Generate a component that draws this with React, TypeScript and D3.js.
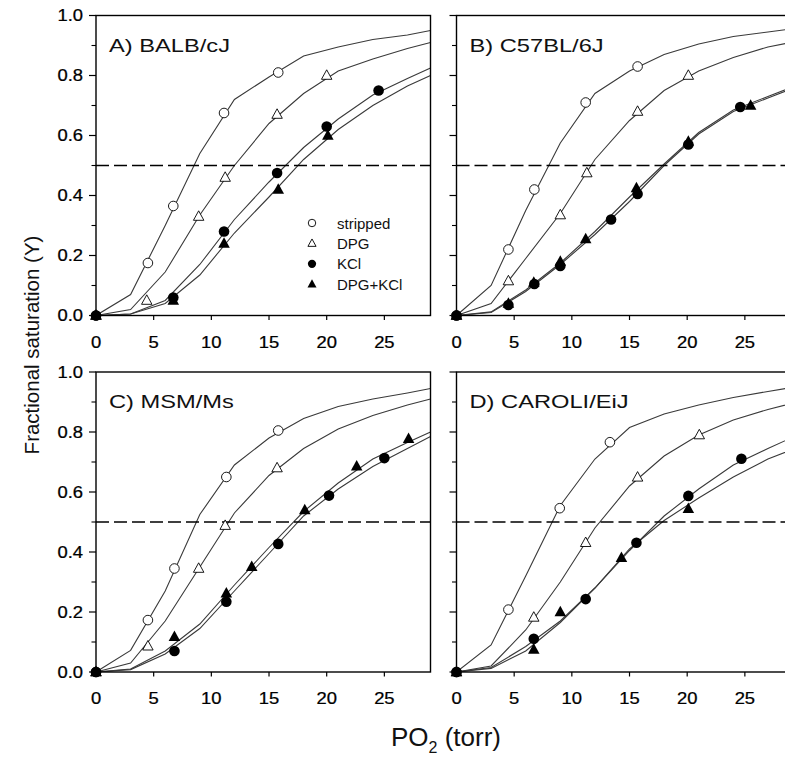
import React from "react";
import * as d3 from "d3";

// oxygen equilibrium curves, 4 mouse strains
const curveX = [0, 3, 6, 9, 12, 15, 18, 21, 24, 27, 29];
const xTicks = [0, 5, 10, 15, 20, 25];
const yTicks = [0, 0.2, 0.4, 0.6, 0.8, 1.0];
const yMinorTicks = [0.1, 0.3, 0.5, 0.7, 0.9];
const seriesNames = ["stripped", "DPG", "KCl", "DPG+KCl"];
const panelLabels = ["A) BALB/cJ", "B) C57BL/6J", "C) MSM/Ms", "D) CAROLI/EiJ"];

// A) BALB/cJ
const balbFitStripped = [0, 0.07, 0.30, 0.54, 0.72, 0.795, 0.865, 0.895, 0.92, 0.935, 0.95];
const balbFitDpg = [0, 0.02, 0.145, 0.335, 0.50, 0.64, 0.74, 0.815, 0.855, 0.89, 0.91];
const balbFitKcl = [0, 0.005, 0.05, 0.17, 0.32, 0.445, 0.56, 0.655, 0.735, 0.79, 0.825];
const balbFitBoth = [0, 0.005, 0.04, 0.135, 0.275, 0.395, 0.52, 0.62, 0.70, 0.765, 0.80];
const balbStripped = [[0, 0], [4.5, 0.175], [6.7, 0.365], [11.1, 0.675], [15.8, 0.81]];
const balbDpg = [[0, 0], [4.4, 0.05], [8.9, 0.33], [11.2, 0.46], [15.7, 0.67], [20, 0.80]];
const balbKcl = [[0, 0], [6.7, 0.06], [11.1, 0.28], [15.7, 0.475], [20, 0.63], [24.5, 0.75]];
const balbBoth = [[0, 0], [6.7, 0.05], [11.1, 0.24], [15.8, 0.42], [20.1, 0.60]];

// B) C57BL/6J
const c57FitStripped = [0, 0.10, 0.35, 0.575, 0.74, 0.815, 0.87, 0.905, 0.93, 0.945, 0.955];
const c57FitDpg = [0, 0.04, 0.19, 0.34, 0.52, 0.65, 0.75, 0.815, 0.86, 0.895, 0.91];
const c57FitKcl = [0, 0.01, 0.08, 0.17, 0.27, 0.38, 0.50, 0.605, 0.68, 0.725, 0.755];
const c57FitBoth = [0, 0.012, 0.085, 0.175, 0.28, 0.395, 0.505, 0.61, 0.685, 0.73, 0.76];
const c57Stripped = [[0, 0], [4.5, 0.22], [6.75, 0.42], [11.2, 0.71], [15.7, 0.83]];
const c57Dpg = [[0, 0], [4.5, 0.115], [9, 0.335], [11.3, 0.475], [15.7, 0.68], [20.1, 0.80]];
const c57Kcl = [[0, 0], [4.5, 0.035], [6.75, 0.105], [9, 0.165], [13.4, 0.32], [15.7, 0.405], [20.1, 0.57], [24.6, 0.695]];
const c57Both = [[0, 0], [4.5, 0.04], [6.7, 0.11], [9, 0.18], [11.2, 0.255], [15.6, 0.425], [20.1, 0.58], [25.5, 0.70]];

// C) MSM/Ms
const msmFitStripped = [0, 0.072, 0.27, 0.525, 0.69, 0.78, 0.845, 0.885, 0.91, 0.93, 0.945];
const msmFitDpg = [0, 0.03, 0.17, 0.35, 0.53, 0.655, 0.745, 0.81, 0.855, 0.89, 0.91];
const msmFitKcl = [0, 0.008, 0.06, 0.145, 0.27, 0.395, 0.52, 0.61, 0.685, 0.745, 0.785];
const msmFitBoth = [0, 0.01, 0.07, 0.16, 0.29, 0.415, 0.535, 0.63, 0.71, 0.765, 0.80];
const msmStripped = [[0, 0], [4.5, 0.173], [6.8, 0.345], [11.3, 0.65], [15.8, 0.805]];
const msmDpg = [[0, 0], [4.5, 0.086], [8.9, 0.345], [11.2, 0.488], [15.7, 0.68]];
const msmKcl = [[0, 0], [6.8, 0.07], [11.3, 0.234], [15.8, 0.427], [20.2, 0.588], [25, 0.713]];
const msmBoth = [[0, 0], [6.8, 0.117], [11.3, 0.262], [13.5, 0.351], [18.1, 0.54], [22.6, 0.686], [27.1, 0.777]];

// D) CAROLI/EiJ
const caroliFitStripped = [0, 0.09, 0.32, 0.555, 0.71, 0.815, 0.86, 0.89, 0.915, 0.935, 0.948];
const caroliFitDpg = [0, 0.02, 0.14, 0.30, 0.48, 0.62, 0.72, 0.79, 0.84, 0.875, 0.895];
const caroliFitKcl = [0, 0.015, 0.085, 0.17, 0.28, 0.405, 0.52, 0.61, 0.69, 0.745, 0.78];
const caroliFitBoth = [0, 0.012, 0.07, 0.165, 0.28, 0.41, 0.505, 0.58, 0.65, 0.71, 0.74];
const caroliStripped = [[0, 0], [4.5, 0.208], [8.95, 0.546], [13.3, 0.766]];
const caroliDpg = [[0, 0], [6.7, 0.182], [11.2, 0.431], [15.7, 0.649], [21.05, 0.79]];
const caroliKcl = [[0, 0], [6.7, 0.111], [11.2, 0.243], [15.6, 0.431], [20.1, 0.587], [24.7, 0.711]];
const caroliBoth = [[0, 0], [6.7, 0.075], [9, 0.20], [14.3, 0.381], [20.1, 0.544]];

const panels = [
  { label: panelLabels[0], fits: [balbFitStripped, balbFitDpg, balbFitKcl, balbFitBoth], pts: [balbStripped, balbDpg, balbKcl, balbBoth] },
  { label: panelLabels[1], fits: [c57FitStripped, c57FitDpg, c57FitKcl, c57FitBoth], pts: [c57Stripped, c57Dpg, c57Kcl, c57Both] },
  { label: panelLabels[2], fits: [msmFitStripped, msmFitDpg, msmFitKcl, msmFitBoth], pts: [msmStripped, msmDpg, msmKcl, msmBoth] },
  { label: panelLabels[3], fits: [caroliFitStripped, caroliFitDpg, caroliFitKcl, caroliFitBoth], pts: [caroliStripped, caroliDpg, caroliKcl, caroliBoth] },
];

const font = "'Liberation Sans', Arial, sans-serif";
const cols = [96, 456.5];
const rows = [15.5, 372];
const pw = 334.5;
const ph = 300;

const triPath = (s) => `M0,${-s * 0.6}L${s * 0.55},${s * 0.4}L${-s * 0.55},${s * 0.4}Z`;

const Marker = ({ kind, x, y, s = 1 }) => {
  if (kind === 0) return <circle cx={x} cy={y} r={4.8 * s} fill="#fff" stroke="#000" strokeWidth={0.9} />;
  if (kind === 1) return <path transform={`translate(${x},${y})`} d={triPath(9.5 * s)} fill="#fff" stroke="#000" strokeWidth={0.9} />;
  if (kind === 2) return <circle cx={x} cy={y} r={5.3 * s} fill="#000" />;
  return <path transform={`translate(${x},${y})`} d={triPath(10.5 * s)} fill="#000" />;
};

const Panel = ({ p, i }) => {
  const left = cols[i % 2];
  const top = rows[Math.floor(i / 2)];
  const x = d3.scaleLinear().domain([0, 29]).range([left, left + pw]);
  const y = d3.scaleLinear().domain([0, 1]).range([top + ph, top]);
  const line = d3.line().x((d) => x(d[0])).y((d) => y(d[1]));
  const clipId = `clip${i}`;
  const drawOrder = [0, 1, 3, 2];

  return (
    <g>
      <defs>
        <clipPath id={clipId}>
          <rect x={left} y={top} width={pw} height={ph} />
        </clipPath>
      </defs>
      <g clipPath={`url(#${clipId})`}>
        {p.fits.map((f, k) => (
          <path key={k} d={line(curveX.map((cx, j) => [cx, f[j]]))} fill="none" stroke="#3a3a3a" strokeWidth={1.1} />
        ))}
        <line x1={x(0)} x2={x(29)} y1={y(0.5)} y2={y(0.5)} stroke="#000" strokeWidth={1.5} strokeDasharray="13,5" />
      </g>
      <rect x={left} y={top} width={pw} height={ph} fill="none" stroke="#000" strokeWidth={1.4} />
      {yTicks.map((t) => (
        <line key={t} x1={left - 7} x2={left} y1={y(t)} y2={y(t)} stroke="#000" strokeWidth={1.2} />
      ))}
      {yMinorTicks.map((t) => (
        <line key={t} x1={left - 4.5} x2={left} y1={y(t)} y2={y(t)} stroke="#000" strokeWidth={1.1} />
      ))}
      {xTicks.map((t) => (
        <line key={t} x1={x(t)} x2={x(t)} y1={top + ph} y2={top + ph + 4.5} stroke="#000" strokeWidth={1.2} />
      ))}
      {xTicks.map((t) => (
        <text key={t} transform={`translate(${x(t)},${top + ph + 32}) scale(1.15,1)`} textAnchor="middle" fontSize={16} fontFamily={font} fill="#000" stroke="#000" strokeWidth={0.25}>
          {t}
        </text>
      ))}
      {i % 2 === 0 &&
        yTicks.map((t) => (
          <text key={t} transform={`translate(${left - 13},${y(t) + 5.5}) scale(1.15,1)`} textAnchor="end" fontSize={16} fontFamily={font} fill="#000" stroke="#000" strokeWidth={0.25}>
            {d3.format(".1f")(t)}
          </text>
        ))}
      {drawOrder.map((k) =>
        p.pts[k].map((d, j) => <Marker key={`${k}-${j}`} kind={k} x={x(d[0])} y={y(d[1])} />)
      )}
      <text transform={`translate(${left + 13},${top + 36}) scale(1.28,1)`} fontSize={18.5} fontFamily={font} fill="#111">
        {p.label}
      </text>
      {i === 0 &&
        seriesNames.map((n, k) => (
          <g key={n}>
            <Marker kind={k} x={312} y={223 + k * 20.4} s={0.78} />
            <text x={337} y={223 + k * 20.4 + 5.5} fontSize={15} fontFamily={font} fill="#111">
              {n}
            </text>
          </g>
        ))}
    </g>
  );
};

export default function App() {
  return (
    <svg width={785} height={758} style={{ position: "absolute", left: 0, top: 0, background: "#fff" }}>
      <rect width={785} height={758} fill="#fff" />
      {panels.map((p, i) => (
        <Panel key={i} p={p} i={i} />
      ))}
      <text transform="translate(39,345) rotate(-90)" textAnchor="middle" fontSize={20.5} fontFamily={font} fill="#111">
        Fractional saturation (Y)
      </text>
      <text x={446} y={746} textAnchor="middle" fontSize={26} fontFamily={font} fill="#111">
        PO<tspan fontSize={16} dy={7}>2</tspan>
        <tspan dy={-7}> (torr)</tspan>
      </text>
    </svg>
  );
}
